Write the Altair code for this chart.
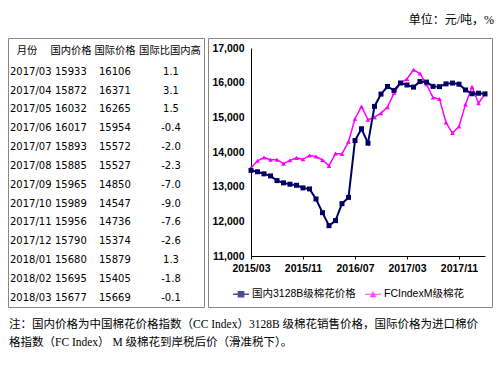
import altair as alt
import pandas as pd

# ---------------- data ----------------
months = []
for yr in (2015, 2016, 2017, 2018):
    for mo in range(1, 13):
        if (yr == 2015 and mo < 3) or (yr == 2018 and mo > 3):
            continue
        months.append(f"{yr}/{mo:02d}")

table_months = ["2017/03", "2017/04", "2017/05", "2017/06", "2017/07", "2017/08", "2017/09",
                "2017/10", "2017/11", "2017/12", "2018/01", "2018/02", "2018/03"]
table_dom = [15933, 15872, 16032, 16017, 15893, 15885, 15965, 15989, 15956, 15790, 15680, 15695, 15677]
table_intl = [16106, 16371, 16265, 15954, 15572, 15527, 14850, 14547, 14736, 15374, 15879, 15405, 15669]
table_diff = ["1.1", "3.1", "1.5", "-0.4", "-2.0", "-2.3", "-7.0", "-9.0", "-7.6", "-2.6", "1.3", "-1.8", "-0.1"]

dom_early = [13470, 13430, 13370, 13310, 13175, 13110, 13070, 13040, 12965, 12935, 12645, 12250,
             11875, 12020, 12510, 12690, 14330, 14670, 14255, 15315, 15670, 15890, 15775, 15990]
intl_early = [13540, 13745, 13840, 13780, 13780, 13665, 13760, 13830, 13790, 13900, 13870, 13770,
              13600, 13955, 13945, 14300, 14960, 15315, 14930, 15005, 15120, 15295, 15700, 15990]
domestic = dom_early + table_dom
international = intl_early + table_intl

series_names = ["国内3128B级棉花价格", "FCIndexM级棉花"]
series_colors = ["#000066", "#ff00ff"]
header_labels = ["月份", "国内价格", "国际价格", "国际比国内高"]
x_tick_labels = ["2015/03", "2015/11", "2016/07", "2017/03", "2017/11"]
y_ticks = [11000, 12000, 13000, 14000, 15000, 16000, 17000]
unit_text = ["单位：元/吨，%"]
note_lines = ["注：国内价格为中国棉花价格指数（CC Index）3128B 级棉花销售价格，国际价格为进口棉价",
              "格指数（FC Index） M 级棉花到岸税后价（滑准税下）。"]

# ---------------- frames ----------------
long_df = pd.DataFrame({
    "month": months * 2,
    "value": domestic + international,
    "series": [series_names[0]] * len(months) + [series_names[1]] * len(months),
})
table_df = pd.DataFrame({"month": table_months, "dom": [str(v) for v in table_dom],
                         "intl": [str(v) for v in table_intl], "diff": table_diff})
one = pd.DataFrame({"k": [0]})
note_df = pd.DataFrame({"line": list(range(len(note_lines))), "text": note_lines})
unit_df = pd.DataFrame({"text": unit_text})
legend_df = pd.DataFrame({"series": series_names})

W, H = 234, 208
CJK = "Noto Sans CJK SC"
LAT = "Liberation Sans, Noto Sans CJK SC"
SER = "Liberation Serif, Noto Sans CJK SC"

x_enc = alt.X("month:N", sort=months,
              scale=alt.Scale(type="point", domain=months, padding=0),
              axis=alt.Axis(values=x_tick_labels, labelAngle=0, title=None, grid=False,
                            ticks=True, tickSize=3, tickColor="#000", domainColor="#000",
                            domainWidth=1, labelFont=LAT, labelFontSize=10.5, labelColor="#000",
                            labelFontWeight="bold", labelPadding=4))
yscale = alt.Scale(domain=[11000, 17000], nice=False, zero=False)
y_axis = alt.Axis(values=y_ticks, labelExpr="format(datum.value, ',')", title=None, grid=False,
                  ticks=False, domainColor="#000", domainWidth=1, labelFont=LAT, labelFontSize=10.5,
                  labelFontWeight="bold", labelColor="#000", labelPadding=7)

base = alt.Chart(long_df)

# boxes
box_tab = alt.Chart(one).mark_rect(fill="white", fillOpacity=0, stroke="#888", strokeWidth=1).encode(
    x=alt.value(-242.5), x2=alt.value(-46.5), y=alt.value(-9.5), y2=alt.value(259.5))
box_chart = alt.Chart(one).mark_rect(fill="white", fillOpacity=0, stroke="#888", strokeWidth=1).encode(
    x=alt.value(-42.5), x2=alt.value(241.5), y=alt.value(-9.5), y2=alt.value(259.5))

# lines
intl_line = base.transform_filter(alt.datum.series == series_names[1]).mark_line(
    color=series_colors[1], strokeWidth=1.5).encode(
    x=x_enc, y=alt.Y("value:Q", scale=yscale, axis=y_axis))
intl_pts = base.transform_filter(alt.datum.series == series_names[1]).mark_point(
    shape="triangle-up", filled=True, color=series_colors[1], size=22, opacity=1).encode(
    x=x_enc, y=alt.Y("value:Q", scale=yscale, axis=None))
dom_line = base.transform_filter(alt.datum.series == series_names[0]).mark_line(
    color=series_colors[0], strokeWidth=2).encode(
    x=x_enc, y=alt.Y("value:Q", scale=yscale, axis=None))
dom_pts = base.transform_filter(alt.datum.series == series_names[0]).mark_point(
    shape="square", filled=True, color=series_colors[0], size=25, opacity=1).encode(
    x=x_enc, y=alt.Y("value:Q", scale=yscale, axis=None))

# legend (symbols only)
sym_dom = "M-1,-0.08H1V0.08H-1Z M-0.42,-0.42H0.42V0.42H-0.42Z"
sym_intl = "M-1,-0.06H1V0.06H-1Z M0,-0.42L0.42,0.36H-0.42Z"
leg = alt.Legend(title=None, orient="none", legendX=-18, legendY=238,
                 direction="horizontal", symbolSize=256, symbolStrokeWidth=0,
                 labelFont=LAT, labelFontSize=10.5, labelColor="#000",
                 labelOffset=3, columnPadding=9, padding=0)
legend_layer = alt.Chart(legend_df).transform_filter("false").mark_point(filled=True).encode(
    color=alt.Color("series:N", scale=alt.Scale(domain=series_names, range=series_colors), legend=leg),
    shape=alt.Shape("series:N", scale=alt.Scale(domain=series_names, range=[sym_dom, sym_intl]), legend=leg),
)

# table
row_y = alt.Y("month:N", sort=table_months,
              scale=alt.Scale(type="point", domain=table_months, range=[23.7, 249.7], padding=0),
              axis=None)
tfont = dict(font="DejaVu Sans", fontSize=10, color="#000", baseline="middle")
col_month = alt.Chart(table_df).mark_text(align="left", **tfont).encode(
    x=alt.value(-241), y=row_y, text="month:N")
col_dom = alt.Chart(table_df).mark_text(align="left", **tfont).encode(
    x=alt.value(-196), y=row_y, text="dom:N")
col_intl = alt.Chart(table_df).mark_text(align="left", **tfont).encode(
    x=alt.value(-152), y=row_y, text="intl:N")
col_diff = alt.Chart(table_df).mark_text(align="center", **tfont).encode(
    x=alt.value(-80), y=row_y, text="diff:N")

hfont = dict(font=CJK, fontSize=10.3, color="#000", baseline="middle", align="center")
header_x = [-224, -180, -136, -81]
headers = [alt.Chart(one).mark_text(text=lab, **hfont).encode(x=alt.value(hx), y=alt.value(3))
           for lab, hx in zip(header_labels, header_x)]

# unit + note
unit_layer = alt.Chart(unit_df).mark_text(align="right", baseline="middle", font=SER,
                                          fontSize=12, color="#000").encode(
    x=alt.value(243), y=alt.value(-28), text="text:N")
note_layer = alt.Chart(note_df).mark_text(align="left", baseline="middle", font=SER,
                                          fontSize=11.5, color="#000").encode(
    x=alt.value(-242),
    y=alt.Y("line:O", scale=alt.Scale(type="point", domain=[0, 1], range=[277, 295.3], padding=0), axis=None),
    text="text:N")

chart = alt.layer(
    box_tab, box_chart, *headers, col_month, col_dom, col_intl, col_diff,
    unit_layer, note_layer,
    intl_line, intl_pts, dom_line, dom_pts, legend_layer,
).resolve_scale(y="independent").properties(
    width=W, height=H,
    autosize=alt.AutoSizeParams(type="none"),
    padding={"left": 243, "top": 40, "right": 11, "bottom": 101},
    background="white",
).configure_view(stroke=None)

chart.save("out.html", embed_options={"renderer": "svg", "actions": False})
